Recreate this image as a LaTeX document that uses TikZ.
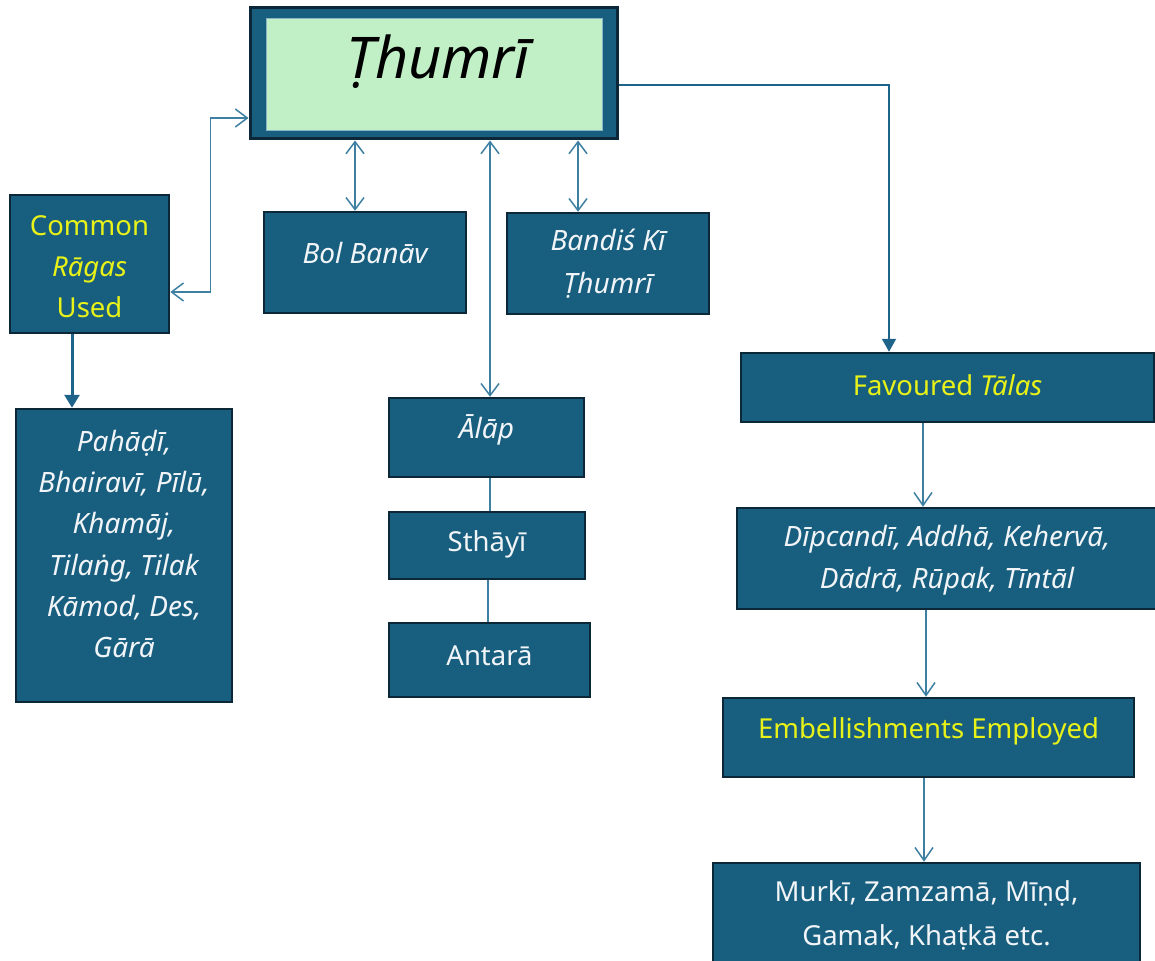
\documentclass[tikz,border=0pt]{standalone}
\usepackage{fontspec}
\setmainfont{Noto Sans}
\usetikzlibrary{arrows.meta,calc}
\definecolor{boxfill}{RGB}{24,94,127}
\definecolor{boxedge}{RGB}{12,40,56}
\definecolor{titlegreen}{RGB}{193,240,199}
\definecolor{yel}{RGB}{232,242,24}
\definecolor{wht}{RGB}{242,245,247}
\definecolor{linec}{RGB}{62,128,162}
\definecolor{darkline}{RGB}{30,100,138}
\begin{document}
\begin{tikzpicture}[x=1pt,y=-1pt,
  box/.style={rectangle, fill=boxfill, draw=boxedge, line width=2.5pt, inner sep=0pt},
  wtxt/.style={text=wht, font=\fontsize{27.5}{42}\selectfont, align=center, inner sep=0pt},
  witxt/.style={text=wht, font=\fontsize{28}{42}\selectfont\itshape, align=center, inner sep=0pt},
  ytxt/.style={text=yel, font=\fontsize{27.5}{41}\selectfont, align=center, inner sep=0pt},
  dbl/.style={draw=linec, line width=1.5pt, arrows={Straight Barb[length=12pt,width=18pt]-Straight Barb[length=12pt,width=18pt]}},
  one/.style={draw=linec, line width=1.5pt, arrows={-Straight Barb[length=13pt,width=18pt]}},
  fat/.style={draw=darkline, line width=3pt, arrows={-Triangle[length=13pt,width=15pt]}},
  fatthin/.style={draw=darkline, line width=2pt, arrows={-Triangle[length=13pt,width=14pt]}},
  plain/.style={draw=linec, line width=1.5pt}]
\clip (0,0) rectangle (1155,960);
\fill[white] (0,0) rectangle (1155,960);

% title
\node[box, line width=3pt, minimum width=367, minimum height=131] (title) at (433.5,73.5) {};
\node[rectangle, fill=titlegreen, draw=linec!60, line width=0.8pt, minimum width=336, minimum height=112] (titlein) at (434,74) {};
\node[font=\fontsize{57.5}{60}\selectfont\itshape, inner sep=0pt] (titletext) at (438,62) {Ṭhumrī};

% left
\node[box, minimum width=159, minimum height=138] (common) at (89.5,264) {};
\node[ytxt] (commontext) at (89.5,267) {Common\\\textit{Rāgas}\\Used};
\node[box, minimum width=216, minimum height=293] (pahadi) at (124,555.5) {};
\node[witxt, font=\fontsize{28}{41.2}\selectfont\itshape] (pahaditext) at (124,544) {Pahāḍī,\\Bhairavī, Pīlū,\\Khamāj,\\Tilaṅg, Tilak\\Kāmod, Des,\\Gārā};

% middle
\node[box, minimum width=202, minimum height=101] (bol) at (365,262.5) {};
\node[witxt] (boltext) at (365,253) {Bol Banāv};
\node[box, minimum width=202, minimum height=101] (bandis) at (608,263.5) {};
\node[witxt, font=\fontsize{28}{43}\selectfont\itshape] (bandistext) at (608,263.5) {Bandiś Kī\\Ṭhumrī};
\node[box, minimum width=195, minimum height=79] (alap) at (486.5,437.5) {};
\node[witxt] (alaptext) at (486.5,430) {Ālāp};
\node[box, minimum width=196, minimum height=67] (sthayi) at (487,545.5) {};
\node[wtxt] (sthayitext) at (487,544) {Sthāyī};
\node[box, minimum width=201, minimum height=74] (antara) at (489.5,660) {};
\node[wtxt] (antaratext) at (489.5,656) {Antarā};

% right
\node[box, minimum width=413, minimum height=69] (fav) at (947.5,387.5) {};
\node[ytxt] (favtext) at (947.5,385) {Favoured \textit{Tālas}};
\node[box, minimum width=420, minimum height=101] (dip) at (947,558.5) {};
\node[witxt] (diptext) at (947,560) {Dīpcandī, Addhā, Kehervā,\\Dādrā, Rūpak, Tīntāl};
\node[box, minimum width=411, minimum height=79] (emb) at (928.5,737.5) {};
\node[ytxt] (embtext) at (928.5,731) {Embellishments Employed};
\node[box, minimum width=427, minimum height=122] (murki) at (926.5,924) {};
\node[wtxt, font=\fontsize{27.5}{44}\selectfont] (murkitext) at (926.5,915) {Murkī, Zamzamā, Mīṇḍ,\\Gamak, Khaṭkā etc.};

% connectors
\draw[dbl] ($(common.east)+(0,28)$) -- ++(40,0) |- ($(title.west)+(0,44.5)$);
\draw[fat] ($(common.south)+(-17.5,0)$) -- ($(pahadi.north)+(-52,0)$);
\draw[dbl] ($(bol.north)+(-10,0)$) -- ($(title.south)+(-78.5,0)$);
\draw[dbl] ($(alap.north)+(3.5,0)$) -- ($(title.south)+(56.5,0)$);
\draw[dbl] ($(bandis.north)+(-30,0)$) -- ($(title.south)+(144.5,0)$);
\draw[plain] ($(alap.south)+(3.5,0)$) -- ($(sthayi.north)+(3,0)$);
\draw[plain] ($(sthayi.south)+(1,0)$) -- ($(antara.north)+(-1.5,0)$);
\draw[fatthin] ($(title.east)+(0,11.5)$) -| ($(fav.north)+(-58.5,0)$);
\draw[one] ($(fav.south)+(-24.5,0)$) -- ($(dip.north)+(-24,0)$);
\draw[one] ($(dip.south)+(-21,0)$) -- ($(emb.north)+(-2.5,0)$);
\draw[one] ($(emb.south)+(-4.5,0)$) -- ($(murki.north)+(-2.5,0)$);
\end{tikzpicture}
\end{document}
